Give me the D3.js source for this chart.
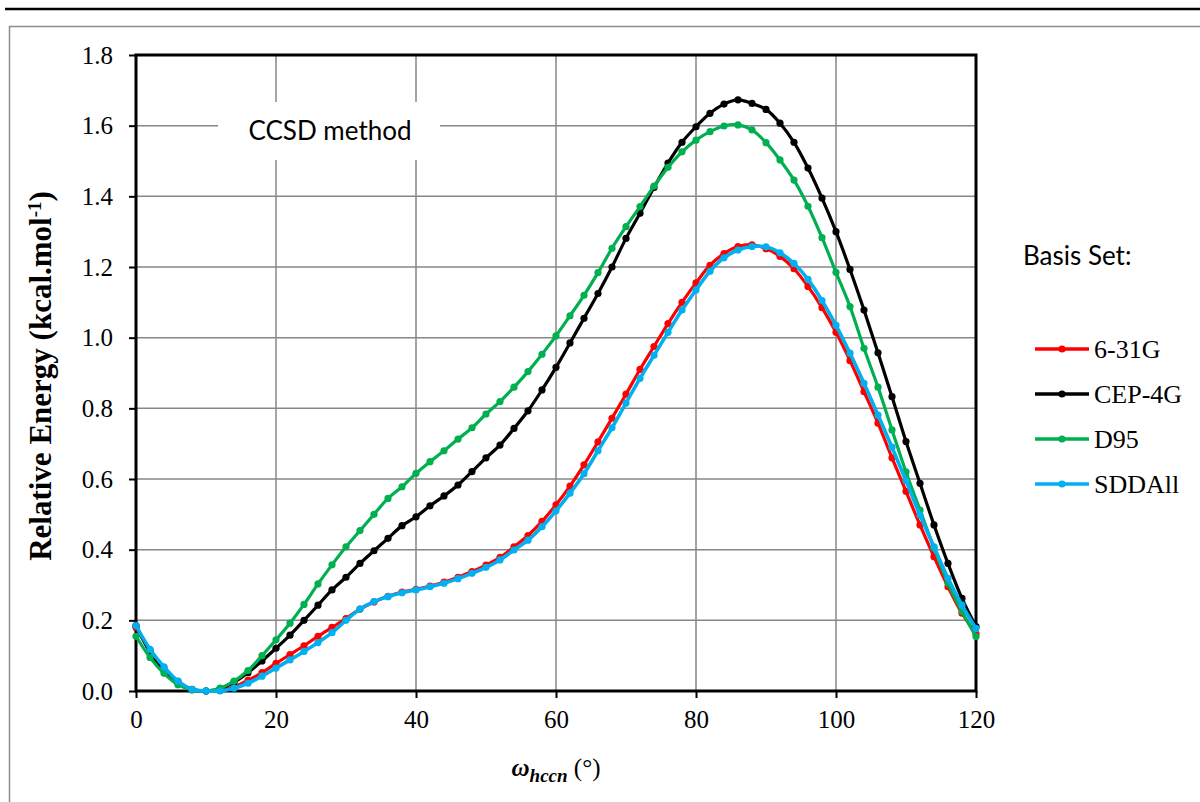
<!DOCTYPE html>
<html>
<head>
<meta charset="utf-8">
<script src="https://cdn.jsdelivr.net/npm/d3@7"></script>
<style>
  body { margin: 0; background: #fff; }
  svg { display: block; }
</style>
</head>
<body>
<div id="mywrap"></div>
<script>
// torsion angle, every 2 degrees
const angles = d3.range(0, 121, 2)

const series631G = [0.18, 0.115, 0.065, 0.027, 0.005, 0, 0.002, 0.012, 0.03, 0.052, 0.078, 0.103, 0.128, 0.155, 0.18,
    0.205, 0.232, 0.252, 0.268, 0.28, 0.288, 0.297, 0.308, 0.322, 0.338, 0.356, 0.378, 0.408, 0.44, 0.48,
    0.527, 0.58, 0.64, 0.705, 0.772, 0.84, 0.91, 0.975, 1.04, 1.1, 1.155, 1.205, 1.238, 1.258, 1.263,
    1.252, 1.23, 1.195, 1.145, 1.085, 1.015, 0.935, 0.847, 0.758, 0.66, 0.565, 0.47, 0.38, 0.295, 0.22, 0.162]

const seriesCEP = [0.185, 0.11, 0.058, 0.022, 0.004, 0, 0.006, 0.025, 0.052, 0.085, 0.121, 0.158, 0.2, 0.243, 0.286,
    0.322, 0.361, 0.397, 0.432, 0.468, 0.493, 0.524, 0.552, 0.583, 0.621, 0.66, 0.696, 0.743, 0.793, 0.852,
    0.916, 0.985, 1.055, 1.125, 1.2, 1.281, 1.352, 1.425, 1.494, 1.553, 1.597, 1.635, 1.661, 1.673, 1.663,
    1.646, 1.607, 1.553, 1.48, 1.395, 1.30, 1.193, 1.078, 0.957, 0.833, 0.706, 0.588, 0.47, 0.361, 0.262, 0.182]

const seriesD95 = [0.155, 0.095, 0.05, 0.018, 0.003, 0, 0.008, 0.028, 0.058, 0.1, 0.145, 0.192, 0.245, 0.303, 0.357,
    0.408, 0.454, 0.5, 0.545, 0.578, 0.616, 0.649, 0.68, 0.713, 0.745, 0.784, 0.819, 0.86, 0.904, 0.953,
    1.005, 1.062, 1.12, 1.184, 1.253, 1.314, 1.371, 1.429, 1.482, 1.526, 1.559, 1.583, 1.599, 1.602, 1.588,
    1.552, 1.503, 1.446, 1.372, 1.283, 1.185, 1.088, 0.97, 0.86, 0.739, 0.62, 0.512, 0.405, 0.305, 0.225, 0.154]

const seriesSDD = [0.185, 0.118, 0.068, 0.028, 0.005, 0, 0, 0.008, 0.022, 0.042, 0.065, 0.088, 0.112, 0.137, 0.165,
    0.2, 0.232, 0.253, 0.267, 0.278, 0.286, 0.295, 0.305, 0.318, 0.333, 0.35, 0.371, 0.399, 0.427, 0.465,
    0.51, 0.56, 0.615, 0.68, 0.745, 0.815, 0.885, 0.95, 1.015, 1.078, 1.135, 1.188, 1.226, 1.248, 1.258,
    1.257, 1.24, 1.21, 1.165, 1.105, 1.035, 0.956, 0.871, 0.781, 0.69, 0.595, 0.498, 0.408, 0.319, 0.243, 0.177]

const seriesNames = ["6-31G", "CEP-4G", "D95", "SDDAll"]
const seriesColors = ["#ff0000", "#000000", "#00b050", "#00b0f0"]
const seriesValues = [series631G, seriesCEP, seriesD95, seriesSDD]

const xTicks = [0, 20, 40, 60, 80, 100, 120]
const yTicks = [0, 0.2, 0.4, 0.6, 0.8, 1.0, 1.2, 1.4, 1.6, 1.8]


let svg = d3.select("#mywrap").append("svg")
    .attr("width", 1200)
    .attr("height", 802)

let margin = {top: 55, left: 136},
    width = 840,
    height = 636

// page rule and outer frame
svg.append("line")
    .attr("x1", 5).attr("x2", 1200).attr("y1", 9).attr("y2", 9)
    .attr("stroke", "black").attr("stroke-width", 2.5)

svg.append("rect")
    .attr("x", 9.5).attr("y", 26.5).attr("width", 1300).attr("height", 900)
    .attr("fill", "none").attr("stroke", "#8c8c8c").attr("stroke-width", 1.5)

let g = svg.append("g").attr("transform", `translate(${margin.left},${margin.top})`)

let xScale = d3.scaleLinear().domain([0, 120]).range([0, width])
let yScale = d3.scaleLinear().domain([0, 1.8]).range([height, 0])

// grid
g.selectAll(".vgrid")
    .data(xTicks.slice(1, -1))
    .enter().append("line")
    .attr("x1", d => xScale(d)).attr("x2", d => xScale(d))
    .attr("y1", 0).attr("y2", height)
    .attr("stroke", "#878787").attr("stroke-width", 1.5)

g.selectAll(".hgrid")
    .data(yTicks.slice(1, -1))
    .enter().append("line")
    .attr("x1", 0).attr("x2", width)
    .attr("y1", d => yScale(d)).attr("y2", d => yScale(d))
    .attr("stroke", "#878787").attr("stroke-width", 1.5)

// label box hides the grid behind it
g.append("rect")
    .attr("x", 218 - margin.left).attr("y", 102 - margin.top)
    .attr("width", 222).attr("height", 58)
    .attr("fill", "white")

g.append("text")
    .attr("x", 330 - margin.left).attr("y", 140 - margin.top)
    .attr("text-anchor", "middle")
    .style("font-family", "Lato, 'Open Sans', sans-serif")
    .style("font-size", "26px")
    .text("CCSD method")

// axes
let xAxis = d3.axisBottom(xScale).tickValues(xTicks).tickSize(7).tickPadding(12)
let yAxis = d3.axisLeft(yScale).tickValues(yTicks).tickSize(7).tickPadding(16)
    .tickFormat(d3.format(".1f"))

let gx = g.append("g").attr("transform", `translate(0,${height})`).call(xAxis)
let gy = g.append("g").call(yAxis)

for (let a of [gx, gy]) {
    a.select(".domain").remove()
    a.selectAll("line").attr("stroke", "black").attr("stroke-width", 2)
    a.selectAll("text")
        .style("font-family", "'Liberation Serif', 'Times New Roman', serif")
        .style("font-size", "25px")
        .attr("fill", "black")
}

// plot frame
g.append("rect")
    .attr("x", 0).attr("y", 0).attr("width", width).attr("height", height)
    .attr("fill", "none").attr("stroke", "black").attr("stroke-width", 3)

// series
let line = d3.line()
    .x((d, i) => xScale(angles[i]))
    .y(d => yScale(d))
    .curve(d3.curveCatmullRom)

seriesValues.forEach((vals, k) => {
    g.append("path")
        .datum(vals)
        .attr("d", line)
        .attr("fill", "none")
        .attr("stroke", seriesColors[k])
        .attr("stroke-width", k == 3 ? 3.6 : 3.2)

    g.selectAll(".pt" + k)
        .data(vals)
        .enter().append("circle")
        .attr("cx", (d, i) => xScale(angles[i]))
        .attr("cy", d => yScale(d))
        .attr("r", 3.6)
        .attr("fill", seriesColors[k])
})

// axis titles
let yt = svg.append("text")
    .attr("transform", "translate(51,376) rotate(-90)")
    .attr("text-anchor", "middle")
    .style("font-family", "'Liberation Serif', 'Times New Roman', serif")
    .style("font-size", "31px")
    .style("font-weight", "bold")

yt.append("tspan").text("Relative Energy (kcal.mol")
yt.append("tspan").attr("dy", -10).style("font-size", "19px").text("-1")
yt.append("tspan").attr("dy", 10).text(")")

let xt = svg.append("text")
    .attr("x", 556).attr("y", 776)
    .attr("text-anchor", "middle")
    .style("font-family", "'Liberation Serif', 'Times New Roman', serif")
    .style("font-size", "25px")

xt.append("tspan").style("font-weight", "bold").style("font-style", "italic").text("ω")
xt.append("tspan").attr("dy", 6).style("font-weight", "bold").style("font-style", "italic")
    .style("font-size", "19px").text("hccn")
xt.append("tspan").attr("dy", -6).text(" (°)")

// legend
svg.append("text")
    .attr("x", 1023).attr("y", 265)
    .style("font-family", "Lato, 'Open Sans', sans-serif")
    .style("font-size", "26px")
    .text("Basis Set:")

let leg = svg.selectAll(".leg")
    .data(seriesNames)
    .enter().append("g")
    .attr("transform", (d, i) => `translate(1035,${349 + i * 45})`)

leg.append("line")
    .attr("x1", 0).attr("x2", 54).attr("y1", 0).attr("y2", 0)
    .attr("stroke", (d, i) => seriesColors[i]).attr("stroke-width", 3.5)

leg.append("circle")
    .attr("cx", 27).attr("cy", 0).attr("r", 3.6)
    .attr("fill", (d, i) => seriesColors[i])

leg.append("text")
    .attr("x", 59).attr("y", 9)
    .style("font-family", "'Liberation Serif', 'Times New Roman', serif")
    .style("font-size", "26px")
    .text(d => d)
</script>
</body>
</html>
